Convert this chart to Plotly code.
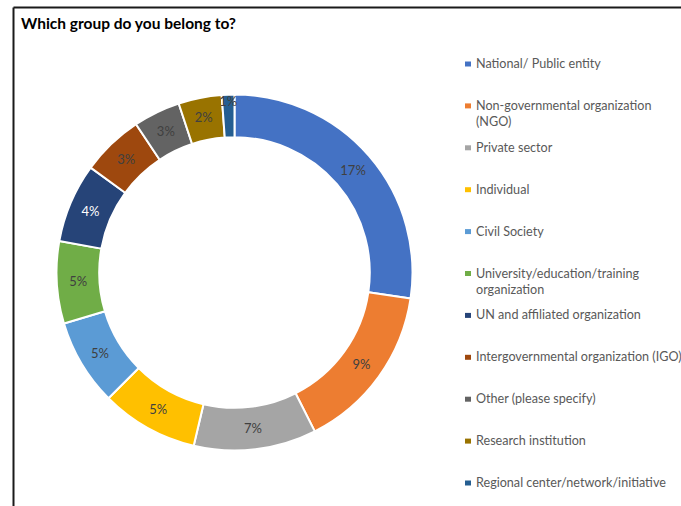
import plotly.graph_objects as go

# Survey responses by group (share of respondents, %)
groups = [
    "National/ Public entity",
    "Non-governmental organization<br>(NGO)",
    "Private sector",
    "Individual",
    "Civil Society",
    "University/education/training<br>organization",
    "UN and affiliated organization",
    "Intergovernmental organization (IGO)",
    "Other (please specify)",
    "Research institution",
    "Regional center/network/initiative",
]
shares = [16.7, 9.3, 6.8, 5.4, 4.8, 4.55, 4.4, 3.45, 2.6, 2.4, 0.7]
colors = [
    "#4472C4", "#ED7D31", "#A5A5A5", "#FFC000", "#5B9BD5", "#70AD47",
    "#264478", "#9E480E", "#636363", "#997300", "#255E91",
]
label_colors = ["#404040"] * 6 + ["#FFFFFF"] + ["#404040"] * 4

W, H = 681, 506
FONT = "Lato, 'Liberation Sans', Arial, sans-serif"

# ring geometry in pixels
cx, cy, r_out = 234.5, 272.5, 178.0

fig = go.Figure(
    go.Pie(
        labels=groups,
        values=shares,
        hole=0.76,
        sort=False,
        direction="clockwise",
        rotation=0,
        marker=dict(colors=colors, line=dict(color="white", width=2)),
        texttemplate="%{value:.0f}%",
        textposition="inside",
        insidetextorientation="horizontal",
        textfont=dict(family=FONT, size=13, color=label_colors),
        showlegend=False,
        hoverinfo="label+value",
        domain=dict(
            x=[(cx - r_out) / W, (cx + r_out) / W],
            y=[1 - (cy + r_out) / H, 1 - (cy - r_out) / H],
        ),
    )
)

# Legend drawn as marker squares + labels
leg_x, leg_top, leg_step = 468, 64, 41.9
shapes = []
annotations = []
for i, (name, col) in enumerate(zip(groups, colors)):
    y = leg_top + i * leg_step
    shapes.append(dict(
        type="rect", xref="paper", yref="paper",
        x0=(leg_x - 3) / W, x1=(leg_x + 3) / W,
        y0=1 - (y + 2.5) / H, y1=1 - (y - 2.5) / H,
        fillcolor=col, line=dict(width=0),
    ))
    annotations.append(dict(
        x=(leg_x + 6) / W, y=1 - (y - 10) / H, xref="paper", yref="paper",
        xanchor="left", yanchor="top", align="left",
        text=name, showarrow=False,
        font=dict(family=FONT, size=12.6, color="#595959"),
    ))

# Title
annotations.append(dict(
    x=19 / W, y=1 - 23 / H, xref="paper", yref="paper",
    xanchor="left", yanchor="middle",
    text="<b>Which group do you belong to?</b>", showarrow=False,
    font=dict(family=FONT, size=15.5, color="#000000"),
))

# Frame lines (top and left)
shapes.append(dict(type="line", xref="paper", yref="paper",
                   x0=13.5 / W, x1=1, y0=1 - 7.5 / H, y1=1 - 7.5 / H,
                   line=dict(color="#1A1A1A", width=2)))
shapes.append(dict(type="line", xref="paper", yref="paper",
                   x0=13.5 / W, x1=13.5 / W, y0=0, y1=1 - 7.5 / H,
                   line=dict(color="#1A1A1A", width=2)))

fig.update_layout(
    width=W, height=H,
    margin=dict(l=0, r=0, t=0, b=0),
    paper_bgcolor="white",
    plot_bgcolor="white",
    shapes=shapes,
    annotations=annotations,
    uniformtext=dict(minsize=13, mode="show"),
)

fig.write_html("out.html")
